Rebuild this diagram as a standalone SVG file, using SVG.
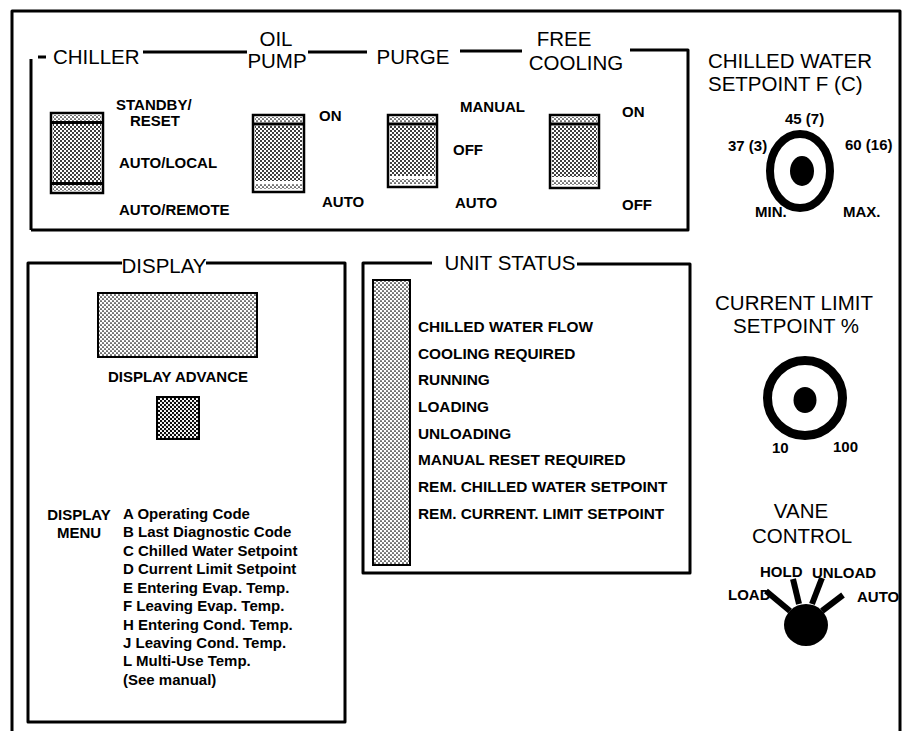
<svg xmlns="http://www.w3.org/2000/svg" width="907" height="731" viewBox="0 0 907 731">
<defs>
<pattern id="dotL" width="4" height="4" patternUnits="userSpaceOnUse"><rect width="4" height="4" fill="#fff"/><circle cx="1" cy="1" r="0.85" fill="#000"/><circle cx="3" cy="3" r="0.85" fill="#000"/></pattern>
<pattern id="dotD" width="4" height="4" patternUnits="userSpaceOnUse"><rect width="4" height="4" fill="#fff"/><circle cx="1" cy="1" r="1.0" fill="#000"/><circle cx="3" cy="3" r="1.0" fill="#000"/></pattern>
<pattern id="dotB" width="4" height="4" patternUnits="userSpaceOnUse"><rect width="4" height="4" fill="#fff"/><circle cx="1" cy="1" r="1.15" fill="#000"/><circle cx="3" cy="3" r="1.15" fill="#000"/></pattern>
</defs>
<style>
.frame{fill:none;stroke:#000;stroke-width:3;stroke-linejoin:round}
.hd{font-family:"Liberation Sans",Arial,sans-serif;font-size:20.5px;fill:#000}
.lb{font-family:"Liberation Sans",Arial,sans-serif;font-size:15px;font-weight:bold;fill:#000}
.st{font-family:"Liberation Sans",Arial,sans-serif;font-size:15.4px;font-weight:bold;fill:#000}
.sw{fill:#fff;stroke:#000;stroke-width:2.5}
.band{fill:url(#dotL);stroke:none}
.body{fill:url(#dotD);stroke:none}
.bar{stroke:#000;stroke-width:3}
.spoke{stroke:#000;stroke-width:6}
</style>
<rect width="907" height="731" fill="#fff"/>
<g id="outer-frame"><path class="frame" d="M12,731 V11 H900 V731"/></g>

<g id="mode-switches">
<path class="frame" d="M31,230 V59 M38,57 H46 M143,52 H247 M308,52 H367 M460,51 H522 M630,50 H688 V230 H31"/>
<text class="hd" x="53" y="64">CHILLER</text>
<text class="hd" x="276" y="46" text-anchor="middle">OIL</text>
<text class="hd" x="277" y="68" text-anchor="middle">PUMP</text>
<text class="hd" x="413" y="64" text-anchor="middle">PURGE</text>
<text class="hd" x="564" y="46" text-anchor="middle">FREE</text>
<text class="hd" x="576" y="70" text-anchor="middle">COOLING</text>
</g>

<g id="chiller-switch">
<rect class="sw" x="51" y="113" width="52" height="80"/>
<rect class="band" x="53" y="115" width="48" height="6"/>
<line class="bar" x1="51" y1="122.5" x2="103" y2="122.5"/>
<rect class="body" x="53" y="124" width="48" height="58"/>
<line class="bar" x1="51" y1="183.5" x2="103" y2="183.5"/>
<rect class="band" x="53" y="185" width="48" height="6"/>
<text class="lb" x="116" y="110">STANDBY/</text>
<text class="lb" x="130" y="126">RESET</text>
<text class="lb" x="119" y="168">AUTO/LOCAL</text>
<text class="lb" x="119" y="215">AUTO/REMOTE</text>
</g>

<g id="oil-pump-switch">
<rect class="sw" x="253" y="115" width="51" height="77"/>
<rect class="band" x="255" y="117" width="47" height="5"/>
<line class="bar" x1="253" y1="124" x2="304" y2="124"/>
<rect class="body" x="255" y="126" width="47" height="55"/>
<rect class="band" x="255" y="184" width="47" height="5"/>
<text class="lb" x="319" y="121">ON</text>
<text class="lb" x="322" y="207">AUTO</text>
</g>

<g id="purge-switch">
<rect class="sw" x="388" y="115" width="49" height="72"/>
<rect class="band" x="390" y="117" width="45" height="5"/>
<line class="bar" x1="388" y1="124" x2="437" y2="124"/>
<rect class="body" x="390" y="126" width="45" height="50"/>
<rect class="band" x="390" y="179" width="45" height="5"/>
<text class="lb" x="460" y="112">MANUAL</text>
<text class="lb" x="453" y="155">OFF</text>
<text class="lb" x="455" y="208">AUTO</text>
</g>

<g id="free-cooling-switch">
<rect class="sw" x="550" y="115" width="49" height="73"/>
<rect class="band" x="552" y="117" width="45" height="5"/>
<line class="bar" x1="550" y1="124" x2="599" y2="124"/>
<rect class="body" x="552" y="126" width="45" height="51"/>
<rect class="band" x="552" y="180" width="45" height="5"/>
<text class="lb" x="622" y="117">ON</text>
<text class="lb" x="622" y="210">OFF</text>
</g>

<g id="chilled-water-setpoint">
<text class="hd" x="708" y="68">CHILLED WATER</text>
<text class="hd" x="708" y="91">SETPOINT F (C)</text>
<ellipse cx="800" cy="171" rx="30" ry="37" fill="none" stroke="#000" stroke-width="8"/>
<ellipse cx="802" cy="171" rx="12" ry="15" fill="#000"/>
<text class="lb" x="785" y="124">45  (7)</text>
<text class="lb" x="728" y="151">37 (3)</text>
<text class="lb" x="845" y="150">60 (16)</text>
<text class="lb" x="755" y="217">MIN.</text>
<text class="lb" x="843" y="217">MAX.</text>
</g>

<g id="display">
<path class="frame" d="M122,263 H28 V722 H345 V263 H206"/>
<text class="hd" x="164" y="273" text-anchor="middle">DISPLAY</text>
<rect x="98" y="293" width="159" height="64" fill="url(#dotL)" stroke="#000" stroke-width="2"/>
<text class="lb" x="178" y="382" text-anchor="middle">DISPLAY ADVANCE</text>
<rect x="157" y="397" width="42" height="42" fill="url(#dotB)" stroke="#000" stroke-width="2"/>
<text class="lb" x="79" y="520" text-anchor="middle">DISPLAY</text>
<text class="lb" x="79" y="538" text-anchor="middle">MENU</text>
<text class="lb" x="123" y="519">A Operating Code</text>
<text class="lb" x="123" y="537">B Last Diagnostic Code</text>
<text class="lb" x="123" y="556">C  Chilled Water Setpoint</text>
<text class="lb" x="123" y="574">D Current Limit Setpoint</text>
<text class="lb" x="123" y="593">E Entering Evap. Temp.</text>
<text class="lb" x="123" y="611">F Leaving Evap. Temp.</text>
<text class="lb" x="123" y="630">H Entering Cond. Temp.</text>
<text class="lb" x="123" y="648">J Leaving Cond. Temp.</text>
<text class="lb" x="123" y="666">L Multi-Use Temp.</text>
<text class="lb" x="123" y="685">(See manual)</text>
</g>

<g id="unit-status">
<path class="frame" d="M432,263 H363 V573 H690 V264 H577"/>
<text class="hd" x="510" y="270" text-anchor="middle">UNIT STATUS</text>
<rect x="373" y="280" width="37" height="285" fill="url(#dotL)" stroke="#000" stroke-width="2"/>
<text class="st" x="418" y="332">CHILLED WATER FLOW</text>
<text class="st" x="418" y="359">COOLING REQUIRED</text>
<text class="st" x="418" y="385">RUNNING</text>
<text class="st" x="418" y="412">LOADING</text>
<text class="st" x="418" y="439">UNLOADING</text>
<text class="st" x="418" y="465">MANUAL RESET REQUIRED</text>
<text class="st" x="418" y="492">REM. CHILLED WATER SETPOINT</text>
<text class="st" x="418" y="519">REM. CURRENT. LIMIT SETPOINT</text>
</g>

<g id="current-limit-setpoint">
<text class="hd" x="794" y="310" text-anchor="middle">CURRENT LIMIT</text>
<text class="hd" x="796" y="333" text-anchor="middle">SETPOINT %</text>
<circle cx="805" cy="398" r="37.5" fill="none" stroke="#000" stroke-width="9"/>
<ellipse cx="805" cy="400" rx="11.5" ry="13" fill="#000"/>
<text class="lb" x="772" y="453">10</text>
<text class="lb" x="833" y="452">100</text>
</g>

<g id="vane-control">
<text class="hd" x="801" y="518" text-anchor="middle">VANE</text>
<text class="hd" x="802" y="543" text-anchor="middle">CONTROL</text>
<line class="spoke" x1="766" y1="591" x2="790" y2="611"/>
<line class="spoke" x1="793" y1="579" x2="799" y2="604"/>
<line class="spoke" x1="822" y1="578" x2="812" y2="604"/>
<line class="spoke" x1="843" y1="595" x2="822" y2="611"/>
<ellipse cx="806" cy="625" rx="22" ry="21" fill="#000"/>
<text class="lb" x="760" y="577">HOLD</text>
<text class="lb" x="812" y="578">UNLOAD</text>
<text class="lb" x="728" y="600">LOAD</text>
<text class="lb" x="857" y="602">AUTO</text>
</g>
</svg>
